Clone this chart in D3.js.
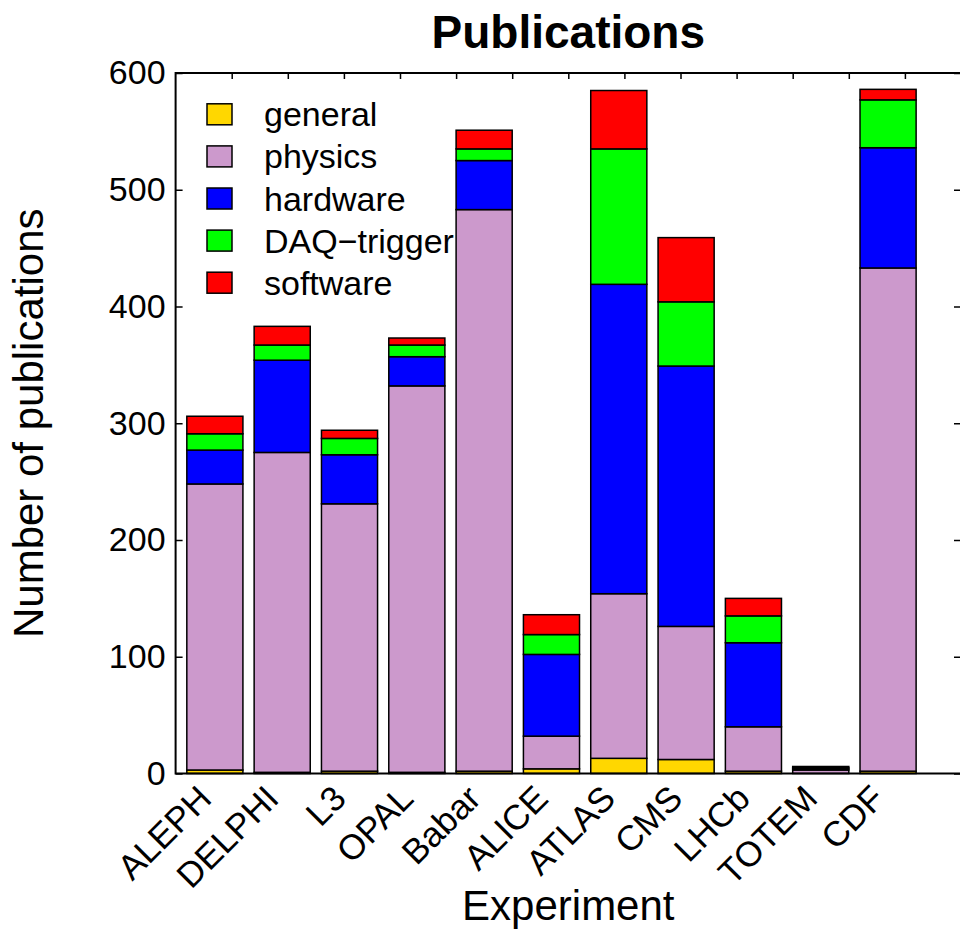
<!DOCTYPE html>
<html>
<head>
<meta charset="utf-8">
<script src="https://cdn.jsdelivr.net/npm/d3@7"></script>
<style>
  html, body { margin: 0; padding: 0; background: #fff; }
  svg { display: block; font-family: "Liberation Sans", Arial, Helvetica, sans-serif; }
</style>
</head>
<body>
<svg id="chart" width="960" height="930"></svg>
<script>
// ---- data ----
const experiments = ["ALEPH", "DELPHI", "L3", "OPAL", "Babar", "ALICE", "ATLAS", "CMS", "LHCb", "TOTEM", "CDF"];
const seriesNames = ["general", "physics", "hardware", "DAQ\u2212trigger", "software"];
const general  = [3,   1,   2,   1,   2,   4,   13,  12,  2,  0, 2];
const physics  = [245, 274, 229, 331, 481, 28,  141, 114, 38, 3, 431];
const hardware = [29,  79,  42,  25,  42,  70,  265, 223, 72, 1, 103];
const daq      = [14,  13,  14,  10,  10,  17,  116, 55,  23, 1, 41];
const software = [15,  16,  7,   6,   16,  17,  50,  55,  15, 1, 9];
const seriesColors = ["#FFD700", "#CC99CC", "#0000FF", "#00FF00", "#FF0000"];
const yTicks = [0, 100, 200, 300, 400, 500, 600];

// ---- layout ----
const svg = d3.select("#chart");
const mLeft = 175.6, mRight = 961, mTop = 73, mBottom = 773.5;
const x = d3.scaleLinear().domain([0, 14]).range([mLeft, mRight]);
const y = d3.scaleLinear().domain([0, 600]).range([mBottom, mTop]);
const barStart = 0.2, barStep = 1.2, barWidth = 1.0;

const keys = ["general", "physics", "hardware", "daq", "software"];
const rows = experiments.map((e, i) => ({
  name: e, idx: i,
  general: general[i], physics: physics[i], hardware: hardware[i], daq: daq[i], software: software[i]
}));
const stacked = d3.stack().keys(keys)(rows);

// title
svg.append("text")
  .attr("x", (mLeft + mRight) / 2).attr("y", 48)
  .attr("text-anchor", "middle")
  .attr("font-size", 46).attr("font-weight", "bold")
  .text("Publications");

// legend (drawn below bars)
const leg = svg.append("g");
seriesNames.forEach((n, i) => {
  const cy = 114.3 + 42.1 * i;
  leg.append("rect")
    .attr("x", 207).attr("y", cy - 10.5).attr("width", 25).attr("height", 21)
    .attr("fill", seriesColors[i]).attr("stroke", "#000").attr("stroke-width", 1.5);
  leg.append("text")
    .attr("x", 264).attr("y", cy + 12)
    .attr("font-size", 34)
    .text(n);
});

// bars
const barsG = svg.append("g");
stacked.forEach((layer, k) => {
  barsG.append("g")
    .attr("fill", seriesColors[k])
    .selectAll("rect")
    .data(layer)
    .join("rect")
    .attr("x", d => x(barStart + barStep * d.data.idx))
    .attr("width", d => x(barWidth) - x(0))
    .attr("y", d => y(d[1]))
    .attr("height", d => y(d[0]) - y(d[1]))
    .attr("stroke", "#000")
    .attr("stroke-width", 1.5);
});

// frame
svg.append("rect")
  .attr("x", mLeft).attr("y", mTop)
  .attr("width", mRight - mLeft).attr("height", mBottom - mTop)
  .attr("fill", "none").attr("stroke", "#000").attr("stroke-width", 2);

// left axis
const yAxis = svg.append("g")
  .attr("transform", `translate(${mLeft},0)`)
  .call(d3.axisLeft(y).tickValues(yTicks).tickSize(-7).tickPadding(10));
yAxis.select(".domain").remove();
yAxis.selectAll("line").attr("stroke-width", 1.5);
yAxis.selectAll("text").attr("font-size", 34).attr("font-family", null).attr("fill", "#000");

// right axis ticks
const yAxisR = svg.append("g")
  .attr("transform", `translate(${mRight},0)`)
  .call(d3.axisRight(y).tickValues(yTicks).tickSize(-7).tickFormat(""));
yAxisR.select(".domain").remove();
yAxisR.selectAll("line").attr("stroke-width", 1.5);

// top axis ticks
const xAxisT = svg.append("g")
  .attr("transform", `translate(0,${mTop})`)
  .call(d3.axisTop(x).tickValues(d3.range(1, 14)).tickSize(-6).tickFormat(""));
xAxisT.select(".domain").remove();
xAxisT.selectAll("line").attr("stroke-width", 1.5);

// bottom axis labels
const centers = experiments.map((e, i) => barStart + barStep * i + barWidth / 2);
const xAxisB = svg.append("g")
  .attr("transform", `translate(0,${mBottom})`)
  .call(d3.axisBottom(x).tickValues(centers).tickSize(0)
    .tickFormat((d, i) => experiments[i]));
xAxisB.select(".domain").remove();
xAxisB.selectAll("text")
  .attr("font-size", 35).attr("font-family", null).attr("fill", "#000")
  .attr("text-anchor", "end")
  .attr("y", 0).attr("dy", 0)
  .attr("transform", "translate(-2,27) rotate(-45)");

// axis titles
svg.append("text")
  .attr("x", (mLeft + mRight) / 2).attr("y", 920)
  .attr("text-anchor", "middle").attr("font-size", 42)
  .text("Experiment");
svg.append("text")
  .attr("transform", `translate(43,${(mTop + mBottom) / 2}) rotate(-90)`)
  .attr("text-anchor", "middle").attr("font-size", 42)
  .text("Number of publications");
</script>
</body>
</html>
